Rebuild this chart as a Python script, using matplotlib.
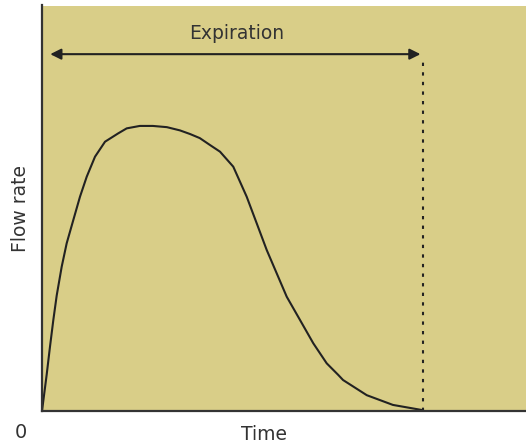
import matplotlib.pyplot as plt

# Flow curve (time units, flow units)
time = [0.0, 0.097, 0.165, 0.234, 0.304, 0.407, 0.510, 0.647, 0.785, 0.924,
        1.095, 1.302, 1.576, 1.75, 2.02, 2.29, 2.58, 2.85, 3.06, 3.26, 3.47,
        3.678, 3.952, 4.229, 4.436, 4.643, 4.849, 5.056, 5.331, 5.605, 5.882,
        6.122, 6.22, 6.71, 7.25, 7.87]
flow = [0.0, 0.90, 1.586, 2.244, 2.85, 3.559, 4.136, 4.710, 5.285, 5.778,
        6.271, 6.641, 6.848, 6.97, 7.03, 7.03, 7.00, 6.92, 6.83, 6.73, 6.56,
        6.395, 6.025, 5.285, 4.629, 3.970, 3.396, 2.819, 2.244, 1.670, 1.176,
        0.888, 0.764, 0.39, 0.15, 0.02]

end_time = 7.87
arrow_start = 0.17
arrow_y = 8.80
dash_top = 8.71
label = "Expiration"

ink = "#222222"
txt = "#333333"
bg = "#d9ce88"

fig = plt.figure(figsize=(5.26, 4.45), dpi=100)
ax = fig.add_axes([42 / 526, 34 / 445, 484 / 526, 405.5 / 445])
ax.set_facecolor(bg)
ax.set_xlim(0, 10)
ax.set_ylim(0, 10)

ax.plot(time, flow, color=ink, lw=1.5, solid_joinstyle="round")
ax.plot([end_time, end_time], [0, dash_top], color=ink, lw=1.5,
        linestyle=(0, (1.6, 3)))
ax.annotate("", xy=(end_time - 0.05, arrow_y), xytext=(arrow_start, arrow_y),
            arrowprops=dict(arrowstyle="<|-|>", color=ink, lw=1.5,
                            mutation_scale=16, shrinkA=0, shrinkB=0))
ax.text((arrow_start + end_time) / 2, 9.3, label, ha="center", va="center",
        fontsize=13.5, color=txt)

ax.spines["top"].set_visible(False)
ax.spines["right"].set_visible(False)
for s in ("left", "bottom"):
    ax.spines[s].set_color(txt)
    ax.spines[s].set_linewidth(1.6)
ax.set_xticks([])
ax.set_yticks([])

fig.text(264 / 526, 1 - 434 / 445, "Time", ha="center", va="center",
         fontsize=13.5, color=txt)
fig.text(21 / 526, 1 - 433 / 445, "0", ha="center", va="center",
         fontsize=14, color=txt)
fig.text(20 / 526, 1 - 208 / 445, "Flow rate", ha="center", va="center",
         rotation=90, fontsize=13.5, color=txt)

fig.savefig("out.png", dpi=100)
